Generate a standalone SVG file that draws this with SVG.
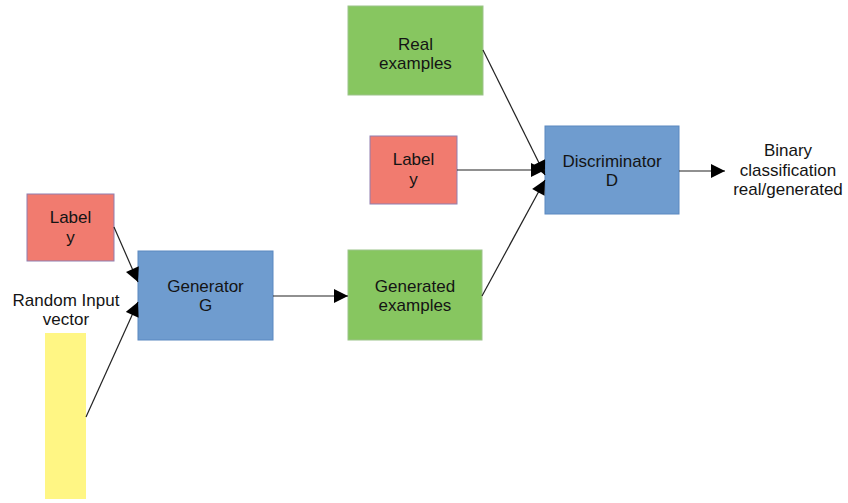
<svg xmlns="http://www.w3.org/2000/svg" width="848" height="503" viewBox="0 0 848 503">
  <defs>
    <style>
      .t { font-family: "Liberation Sans", Arial, sans-serif; font-size: 17px; fill: #141414; text-anchor: middle; }
      .red { fill: #f17b6f; stroke: #8f7fb0; stroke-width: 1; }
      .green { fill: #87c660; stroke: #9cc38a; stroke-width: 1; }
      .blue { fill: #6f9ccf; stroke: #5b88c0; stroke-width: 1; }
      .yellow { fill: #fff684; }
      .edge { stroke: #222; stroke-width: 1.2; fill: none; marker-end: url(#arrow); }
    </style>
    <marker id="arrow" viewBox="0 0 10 10" refX="10" refY="5" markerWidth="16" markerHeight="14" markerUnits="userSpaceOnUse" orient="auto">
      <path d="M0,0 L10,5 L0,10 Z" fill="#000"/>
    </marker>
  </defs>

  <rect width="848" height="503" fill="#fff"/>

  <g id="label-gen">
    <rect class="red" x="27" y="194" width="87" height="67"/>
    <text class="t" x="70.5" y="223">Label</text>
    <text class="t" x="70.5" y="243">y</text>
  </g>

  <g id="random-input">
    <text class="t" x="66" y="306">Random Input</text>
    <text class="t" x="66" y="325">vector</text>
    <rect class="yellow" x="45" y="333" width="41" height="166"/>
  </g>

  <g id="generator">
    <rect class="blue" x="138" y="251" width="135" height="89"/>
    <text class="t" x="205.5" y="292">Generator</text>
    <text class="t" x="205.5" y="311">G</text>
  </g>

  <g id="generated-examples">
    <rect class="green" x="348" y="250" width="134" height="90"/>
    <text class="t" x="415" y="292">Generated</text>
    <text class="t" x="415" y="311">examples</text>
  </g>

  <g id="real-examples">
    <rect class="green" x="348" y="6" width="135" height="89"/>
    <text class="t" x="415.5" y="50">Real</text>
    <text class="t" x="415.5" y="69">examples</text>
  </g>

  <g id="label-disc">
    <rect class="red" x="370" y="136" width="87" height="68"/>
    <text class="t" x="413.5" y="165">Label</text>
    <text class="t" x="413.5" y="185">y</text>
  </g>

  <g id="discriminator">
    <rect class="blue" x="545" y="126" width="134" height="88"/>
    <text class="t" x="612" y="167">Discriminator</text>
    <text class="t" x="612" y="186">D</text>
  </g>

  <g id="output">
    <text class="t" x="788" y="156">Binary</text>
    <text class="t" x="788" y="176">classification</text>
    <text class="t" x="788" y="195">real/generated</text>
  </g>

  <g id="connectors">
    <line class="edge" x1="114" y1="227" x2="138" y2="282"/>
    <line class="edge" x1="86" y1="417" x2="138" y2="302"/>
    <line class="edge" x1="273" y1="296" x2="348" y2="296"/>
    <line class="edge" x1="483" y1="50" x2="545" y2="175"/>
    <line class="edge" x1="457" y1="170" x2="545" y2="170"/>
    <line class="edge" x1="482" y1="296" x2="545" y2="180"/>
    <line class="edge" x1="679" y1="171" x2="725" y2="171"/>
  </g>
</svg>
